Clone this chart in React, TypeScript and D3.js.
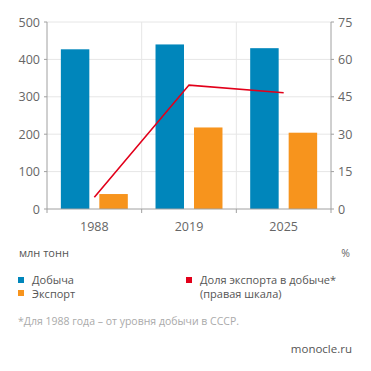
import React from "react";
import * as d3 from "d3";

const years = ["1988", "2019", "2025"];
const production = [427, 440, 430];
const exportVals = [40, 218, 204];
const exportShare = [4.7, 49.7, 46.6];
const leftTicks = [0, 100, 200, 300, 400, 500];
const rightTicks = [0, 15, 30, 45, 60, 75];

const BLUE = "#0086bb";
const ORANGE = "#f7941d";
const RED = "#e2001a";
const FONT = "'Open Sans', 'DejaVu Sans', sans-serif";

export default function App() {
  const left = 47;
  const right = 331;
  const top = 22;
  const bottom = 209;

  const x = d3.scaleBand().domain(years).range([left, right]);
  const inner = d3.scaleBand().domain(["p", "e"]).range([0, x.bandwidth()]).paddingInner(0.26).paddingOuter(0.36);
  const y = d3.scaleLinear().domain([0, 500]).range([bottom, top]);
  const y2 = d3.scaleLinear().domain([0, 75]).range([bottom, top]);

  const line = d3
    .line<number>()
    .x((_, i) => (x(years[i]) as number) + x.bandwidth() / 2)
    .y((d) => y2(d));

  const grid = "#e6e6e6";
  const axis = "#a0a0a0";
  const tickColor = "#666";

  return (
    <svg width={371} height={371} style={{ position: "absolute", left: 0, top: 0 }} fontFamily={FONT}>
      <rect width={371} height={371} fill="#fff" />
      {leftTicks.slice(1).map((t) => (
        <line key={t} x1={left} x2={right} y1={y(t)} y2={y(t)} stroke={grid} />
      ))}
      {years.slice(1).map((yr) => (
        <line key={yr} x1={x(yr)} x2={x(yr)} y1={top} y2={bottom} stroke={grid} />
      ))}
      {years.map((yr, i) => (
        <g key={yr}>
          <rect
            x={(x(yr) as number) + (inner("p") as number)}
            y={y(production[i])}
            width={inner.bandwidth()}
            height={bottom - y(production[i])}
            fill={BLUE}
          />
          <rect
            x={(x(yr) as number) + (inner("e") as number)}
            y={y(exportVals[i])}
            width={inner.bandwidth()}
            height={bottom - y(exportVals[i])}
            fill={ORANGE}
          />
          <text
            x={(x(yr) as number) + x.bandwidth() / 2}
            y={231}
            textAnchor="middle"
            fontSize={12.5}
            fill={tickColor}
          >
            {yr}
          </text>
        </g>
      ))}
      <path d={line(exportShare) || ""} fill="none" stroke={RED} strokeWidth={1.6} />
      {/* axes */}
      <line x1={left} x2={left} y1={top} y2={bottom} stroke={axis} />
      <line x1={right} x2={right} y1={top} y2={bottom} stroke={axis} />
      <line x1={left} x2={right} y1={bottom} y2={bottom} stroke={axis} />
      {[...years.map((yr) => x(yr) as number), right].map((p) => (
        <line key={p} x1={p} x2={p} y1={bottom} y2={bottom + 4} stroke={axis} />
      ))}
      {leftTicks.map((t) => (
        <g key={t}>
          <line x1={left - 3} x2={left} y1={y(t)} y2={y(t)} stroke={axis} />
          <text x={40} y={y(t) + 4.5} textAnchor="end" fontSize={12.5} fill={tickColor}>
            {t}
          </text>
        </g>
      ))}
      {rightTicks.map((t) => (
        <g key={t}>
          <line x1={right} x2={right + 3} y1={y2(t)} y2={y2(t)} stroke={axis} />
          <text x={338} y={y2(t) + 4.5} textAnchor="start" fontSize={12.5} fill={tickColor}>
            {t}
          </text>
        </g>
      ))}
      {/* units */}
      <text x={19} y={257} fontSize={11} fill="#555">
        млн тонн
      </text>
      <text x={350} y={257} fontSize={10.5} fill="#666" textAnchor="end">
        %
      </text>
      {/* legend */}
      <rect x={18} y={277} width={6} height={6} fill={BLUE} />
      <text x={32} y={284} fontSize={11} fill="#555">Добыча</text>
      <rect x={18} y={290} width={6} height={6} fill={ORANGE} />
      <text x={32} y={297.5} fontSize={11} fill="#555">Экспорт</text>
      <rect x={186} y={277} width={6} height={6} fill={RED} />
      <text x={200} y={284} fontSize={11} fill="#555">Доля экспорта в добыче*</text>
      <text x={200} y={297.5} fontSize={11} fill="#555">(правая шкала)</text>
      <text x={18} y={325} fontSize={10.5} fill="#aaa">
        *Для 1988 года – от уровня добычи в СССР.
      </text>
      <text x={352} y={353} fontSize={11.5} fill="#555" textAnchor="end">
        monocle.ru
      </text>
    </svg>
  );
}
